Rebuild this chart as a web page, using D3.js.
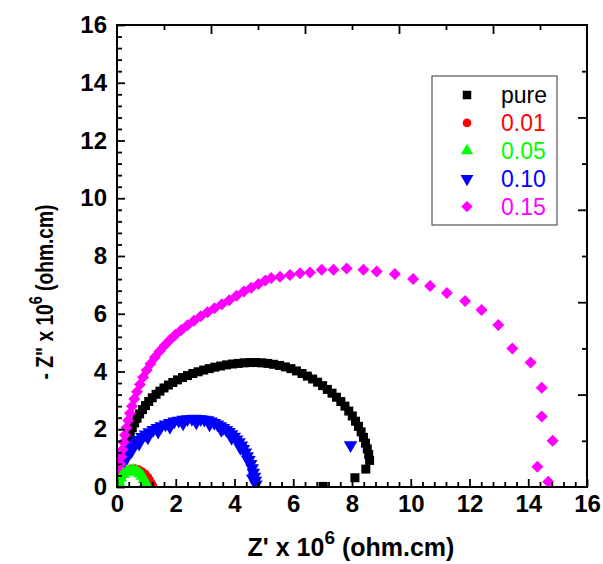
<!DOCTYPE html>
<meta charset="utf-8">
<head>
  <style>
    body { margin: 0; background: #fff; }
    svg { font-family: Arial, 'Liberation Sans', sans-serif; }
  </style>
  <script src="https://d3js.org/d3.v7.min.js"></script>
</head>
<body>
  <div id="my_dataviz"></div>
  <script>
    // Series labels and colours (legend order)
    const seriesNames = ["pure", "0.01", "0.05", "0.10", "0.15"];
    const seriesColors = ["#000000", "#ff0000", "#00ff00", "#0000ff", "#ff00ff"];

    // Z' (x 10^6 ohm.cm), -Z'' (x 10^6 ohm.cm)
    const purePoints = [
      [0.30,1.30],[0.34,1.50],[0.39,1.70],[0.45,1.88],[0.52,2.05],[0.60,2.22],[0.68,2.38],[0.77,2.53],
      [0.87,2.68],[0.97,2.82],[1.08,2.96],[1.20,3.09],[1.33,3.21],[1.46,3.32],[1.60,3.43],[1.75,3.53],
      [1.90,3.62],[2.06,3.71],[2.23,3.79],[2.40,3.86],[2.58,3.93],[2.76,3.99],[2.95,4.05],[3.14,4.10],
      [3.33,4.15],[3.53,4.19],[3.73,4.23],[3.93,4.26],[4.13,4.28],[4.33,4.30],[4.53,4.31],[4.73,4.31],
      [4.93,4.30],[5.13,4.28],[5.33,4.25],[5.53,4.21],[5.73,4.16],[5.92,4.10],[6.11,4.02],[6.30,3.93],
      [6.48,3.84],[6.66,3.74],[6.83,3.63],[7.00,3.51],[7.16,3.38],[7.32,3.25],[7.47,3.11],[7.62,2.96],
      [7.76,2.80],[7.89,2.63],[8.01,2.46],[8.12,2.28],[8.22,2.10],[8.31,1.91],[8.39,1.72],[8.46,1.52],
      [8.52,1.32],[8.57,1.12],[8.60,0.92],[8.47,0.62],[8.10,0.32],[7.02,0.02]
    ];
    const dop01Points = [
      [0.04,0.05],[0.08,0.20],[0.15,0.35],[0.24,0.47],[0.35,0.56],[0.47,0.62],[0.60,0.63],[0.73,0.60],
      [0.85,0.53],[0.96,0.44],[1.05,0.33],[1.12,0.22],[1.18,0.11],[1.22,0.03]
    ];
    const dop05Points = [
      [0.03,0.04],[0.07,0.18],[0.13,0.32],[0.22,0.44],[0.32,0.52],[0.43,0.56],[0.55,0.57],[0.66,0.54],
      [0.76,0.47],[0.85,0.38],[0.92,0.27],[0.97,0.15],[1.00,0.05]
    ];
    const dop10Points = [
      [0.17,0.72],[0.22,0.90],[0.28,1.05],[0.35,1.18],[0.43,1.30],[0.52,1.42],[0.62,1.53],[0.73,1.63],
      [0.85,1.73],[0.97,1.82],[1.10,1.90],[1.23,1.98],[1.37,2.05],[1.51,2.11],[1.65,2.17],[1.80,2.22],
      [1.95,2.27],[2.10,2.30],[2.25,2.33],[2.40,2.35],[2.55,2.36],[2.65,2.37],[2.73,2.36],[2.85,2.35],
      [2.97,2.33],[3.09,2.31],[3.20,2.27],[3.31,2.22],[3.42,2.17],[3.52,2.11],[3.62,2.05],[3.72,1.98],
      [3.81,1.91],[3.90,1.83],[3.99,1.74],[4.07,1.65],[4.15,1.55],[4.23,1.44],[4.30,1.32],[4.37,1.20],
      [4.43,1.07],[4.49,0.94],[4.55,0.80],[4.60,0.65],[4.64,0.50],[4.68,0.36],[4.71,0.22],[4.73,0.09],
      [0.30,0.95],[0.50,1.25],[0.75,1.50],[1.05,1.72],[1.40,1.92],[1.80,2.08],[2.25,2.20],[2.70,2.24],
      [3.15,2.17],[3.55,1.98],[3.90,1.70],[4.20,1.35],[4.45,0.95],[4.62,0.30],
      [7.95,1.45]
    ];
    const dop15Points = [
      [0.04,0.05],[0.06,0.30],[0.09,0.55],[0.12,0.80],[0.15,1.05],[0.19,1.30],[0.23,1.55],[0.27,1.80],
      [0.32,2.05],[0.38,2.30],[0.44,2.55],[0.51,2.80],[0.59,3.05],[0.68,3.30],[0.78,3.55],[0.89,3.80],
      [1.01,4.04],[1.14,4.27],[1.29,4.49],[1.45,4.70],[1.62,4.90],[1.80,5.09],[1.99,5.27],[2.19,5.44],
      [2.40,5.60],[2.62,5.76],[2.85,5.91],[3.08,6.05],[3.32,6.19],[3.57,6.33],[3.82,6.47],[4.07,6.62],
      [4.32,6.77],[4.57,6.90],[4.82,7.03],[5.05,7.15],[5.25,7.24],[5.55,7.28],[5.89,7.34],[6.23,7.40],
      [6.57,7.43],[6.97,7.52],[7.37,7.52],[7.82,7.57],[8.39,7.52],[8.84,7.46],[9.46,7.38],[10.08,7.20],
      [10.66,6.96],[11.23,6.72],[11.85,6.44],[12.41,6.13],[12.98,5.61],[13.46,4.80],[14.08,4.31],
      [14.46,3.44],[14.46,2.44],[14.83,1.60],[14.31,0.70],[14.68,0.18]
    ];
    const xTicks = [0, 2, 4, 6, 8, 10, 12, 14, 16];
    const yTicks = [0, 2, 4, 6, 8, 10, 12, 14, 16];

    const W = 603, H = 564;
    const margin = { top: 25, right: 16, bottom: 77, left: 117 };

    const svg = d3.select("#my_dataviz")
      .append("svg")
      .attr("width", W)
      .attr("height", H);

    const x = d3.scaleLinear().domain([0, 16]).range([margin.left, W - margin.right]);
    const y = d3.scaleLinear().domain([0, 16]).range([H - margin.bottom, margin.top]);

    svg.append("clipPath").attr("id", "plotclip")
      .append("rect")
      .attr("x", x(0)).attr("y", y(16))
      .attr("width", x(16) - x(0)).attr("height", y(0) - y(16));

    // symbols: square, circle, up triangle, down triangle, diamond
    const symbolFor = [
      { type: d3.symbolSquare, size: 81, rot: 0 },
      { type: d3.symbolCircle, size: 64, rot: 0 },
      { type: d3.symbolTriangle, size: 72, rot: 0 },
      { type: d3.symbolTriangle, size: 80, rot: 180 },
      { type: d3.symbolSquare, size: 72, rot: 45 }
    ];
    const seriesData = [purePoints, dop01Points, dop05Points, dop10Points, dop15Points];
    const drawOrder = [0, 3, 4, 1, 2];

    const plot = svg.append("g").attr("clip-path", "url(#plotclip)");
    drawOrder.forEach(i => {
      const sym = d3.symbol().type(symbolFor[i].type).size(symbolFor[i].size);
      plot.append("g").selectAll("path")
        .data(seriesData[i])
        .join("path")
        .attr("d", sym)
        .attr("transform", d => `translate(${x(d[0])},${y(d[1])}) rotate(${symbolFor[i].rot})`)
        .attr("fill", seriesColors[i]);
    });

    // axes: major ticks every 2, minor every 0.4, all pointing inward
    const minor = d3.range(0, 16.01, 0.4).map(v => +v.toFixed(1)).filter(v => !xTicks.includes(v));

    const gx = svg.append("g").attr("transform", `translate(0,${y(0)})`);
    gx.call(d3.axisBottom(x).tickValues(xTicks).tickSize(-8).tickPadding(8).tickFormat(d3.format("d")));
    gx.append("g").call(d3.axisBottom(x).tickValues(minor).tickSize(-5).tickFormat(""));

    const gy = svg.append("g").attr("transform", `translate(${x(0)},0)`);
    gy.call(d3.axisLeft(y).tickValues(yTicks).tickSize(-8).tickPadding(10).tickFormat(d3.format("d")));
    gy.append("g").call(d3.axisLeft(y).tickValues(minor).tickSize(-5).tickFormat(""));

    // top and right axes: ticks every 1.6, long/short alternating
    const mirror = d3.range(1, 10);
    const gt = svg.append("g").attr("transform", `translate(0,${y(16)})`);
    gt.call(d3.axisTop(x).tickValues(mirror.map(k => k * 1.6)).tickSize(0).tickFormat(""));
    gt.selectAll(".tick line").attr("y2", (d, i) => (i % 2 === 1 ? 9 : 5));
    const gr = svg.append("g").attr("transform", `translate(${x(16)},0)`);
    gr.call(d3.axisRight(y).tickValues(mirror.map(k => 16 - k * 1.6)).tickSize(0).tickFormat(""));
    gr.selectAll(".tick line").attr("x2", (d, i) => (i % 2 === 1 ? -9 : -5));

    svg.selectAll(".domain").remove();
    svg.selectAll(".tick line").attr("stroke", "#000").attr("stroke-width", 1.8);
    svg.selectAll(".tick text")
      .attr("fill", "#000")
      .style("font-size", "24px")
      .style("font-weight", "bold");

    svg.append("rect")
      .attr("x", x(0)).attr("y", y(16))
      .attr("width", x(16) - x(0)).attr("height", y(0) - y(16))
      .attr("fill", "none")
      .attr("stroke", "#000")
      .attr("stroke-width", 2);

    // axis titles
    const xt = svg.append("text")
      .attr("x", 351).attr("y", 556)
      .attr("text-anchor", "middle")
      .style("font-size", "25px").style("font-weight", "bold");
    xt.append("tspan").text("Z' x 10");
    xt.append("tspan").attr("dy", -12).style("font-size", "19px").text("6");
    xt.append("tspan").attr("dy", 12).text(" (ohm.cm)");

    const yt = svg.append("text")
      .attr("transform", "translate(53,292) rotate(-90) scale(0.8,1)")
      .attr("text-anchor", "middle")
      .style("font-size", "24px").style("font-weight", "bold");
    yt.append("tspan").text("- Z\" x 10");
    yt.append("tspan").attr("dy", -11).style("font-size", "18px").text("6");
    yt.append("tspan").attr("dy", 11).text(" (ohm.cm)");

    // legend
    const legend = svg.append("g");
    legend.append("rect")
      .attr("x", 432).attr("y", 76).attr("width", 125).attr("height", 149)
      .attr("fill", "#fff").attr("stroke", "#555").attr("stroke-width", 1.2);
    seriesNames.forEach((name, i) => {
      const ly = 95 + i * 27.9;
      const sym = d3.symbol().type(symbolFor[i].type).size(symbolFor[i].size * 0.9);
      legend.append("path")
        .attr("d", sym)
        .attr("transform", `translate(467,${ly}) rotate(${symbolFor[i].rot})`)
        .attr("fill", seriesColors[i]);
      legend.append("text")
        .attr("x", 501).attr("y", ly)
        .attr("dy", "0.36em")
        .attr("fill", seriesColors[i])
        .style("font-size", "23px")
        .text(name);
    });
  </script>
</body>
